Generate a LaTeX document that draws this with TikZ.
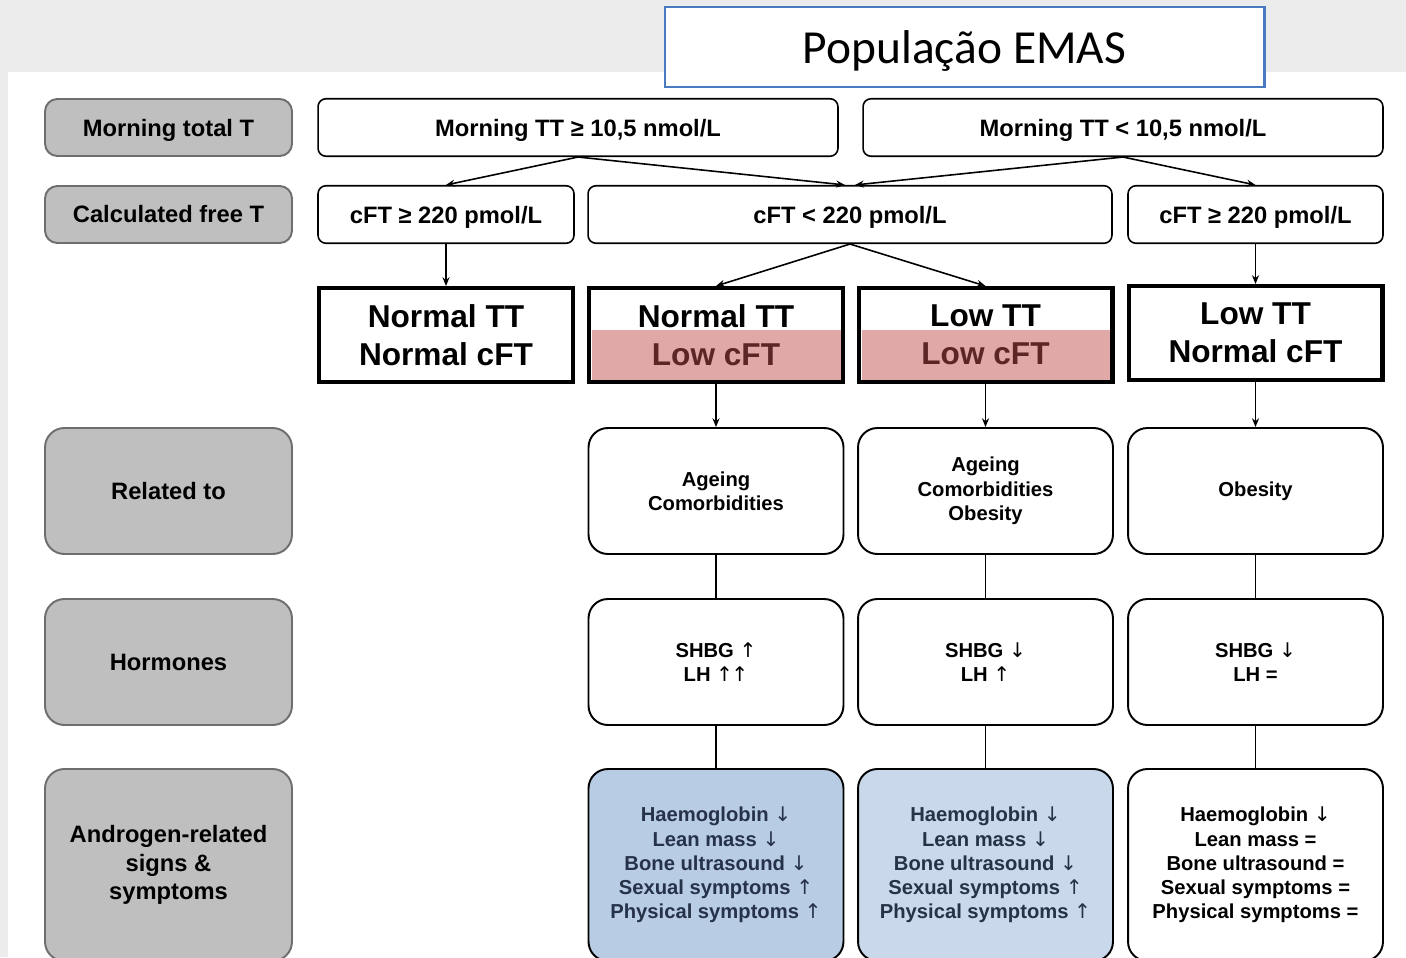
\documentclass[tikz,border=0pt]{standalone}
\usepackage{fontspec}
\setmainfont{Liberation Sans}
\newfontfamily\titlefont{Carlito}
\newfontfamily\arrowfont{DejaVu Sans}
\usepackage{xcolor}
\usetikzlibrary{arrows.meta}
\definecolor{bggray}{HTML}{ECECEC}
\definecolor{boxgray}{HTML}{BFBFBF}
\definecolor{edgegray}{HTML}{6E6E6E}
\definecolor{titleblue}{HTML}{4A7BC0}
\definecolor{lowpink}{HTML}{E0A8A6}
\definecolor{lowred}{HTML}{5C2626}
\definecolor{symblueA}{HTML}{B8CCE4}
\definecolor{symblueB}{HTML}{C9D8EA}
\definecolor{symtext}{HTML}{263248}
\newcommand{\midfont}{\bfseries\fontsize{13.5}{16.2}\selectfont}
\newcommand{\bigfont}{\bfseries\fontsize{18}{21.6}\selectfont}
\newcommand{\smallfont}{\bfseries\fontsize{11.5}{13.8}\selectfont}
\newcommand{\uparr}{{\arrowfont\mdseries ↑}}
\newcommand{\dnarr}{{\arrowfont\mdseries ↓}}

\begin{document}
\begin{tikzpicture}[x=0.02cm, y=-0.02cm, >={Stealth[length=5pt,width=4pt]},
  titlebox/.style={draw=titleblue, line width=1.2pt, fill=white, minimum width=12cm, minimum height=1.6cm, inner sep=0pt, text depth=0pt, font=\titlefont\fontsize{27}{32}\selectfont},
  labelbox/.style={draw=edgegray, line width=1.1pt, fill=boxgray, rounded corners=7pt, minimum width=4.94cm, align=center, inner sep=2pt, font=\midfont},
  condbox/.style={draw, line width=0.9pt, fill=white, rounded corners=4.5pt, minimum height=1.15cm, inner sep=2pt, text depth=0pt, font=\midfont},
  groupbox/.style={draw, line width=2.3pt, minimum width=5.08cm, minimum height=1.88cm, align=center, inner sep=2pt, font=\bigfont},
  infobox/.style={draw, line width=1.1pt, fill=white, rounded corners=11pt, minimum width=5.1cm, align=center, inner sep=2pt, font=\smallfont},
  link/.style={line width=0.9pt},
  stem/.style={line width=1.1pt}]
  \useasboundingbox (0,0) rectangle (1406,957);
  \clip (0,0) rectangle (1406,957);
  \fill[bggray] (0,0) rectangle (1406,957);
  \fill[white] (8,72) rectangle (1406,957);

  % title
  \node[titlebox] (pop) at (964.5,47) {População EMAS};

  % left column
  \node[labelbox, minimum height=1.14cm, text depth=0pt] (mornT) at (168.5,127.5) {Morning total T};
  \node[labelbox, minimum height=1.14cm] (freeT) at (168.5,214.5) {Calculated free T};
  \node[labelbox, minimum height=2.52cm, rounded corners=11pt] (relT) at (168.5,491) {Related to};
  \node[labelbox, minimum height=2.52cm, rounded corners=11pt] (hormT) at (168.5,662) {Hormones};
  \node[labelbox, minimum height=3.84cm, rounded corners=11pt] (signT) at (168.5,865) {Androgen-related\\signs \&\\symptoms};

  % total T and free T
  \node[condbox, minimum width=10.4cm] (ttHigh) at (578,127.5) {Morning TT ≥ 10,5 nmol/L};
  \node[condbox, minimum width=10.4cm] (ttLow) at (1123,127.5) {Morning TT < 10,5 nmol/L};
  \node[condbox, minimum width=5.12cm] (cftA) at (446,214.5) {cFT ≥ 220 pmol/L};
  \node[condbox, minimum width=10.48cm] (cftB) at (850,214.5) {cFT < 220 pmol/L};
  \node[condbox, minimum width=5.1cm] (cftC) at (1255.5,214.5) {cFT ≥ 220 pmol/L};

  % groups
  \fill[lowpink] (592,330) rectangle (842,380);
  \fill[lowpink] (862,330) rectangle (1112,380);
  \node[groupbox] (grpNN) at (446,335) {Normal TT\\Normal cFT};
  \node[groupbox] (grpNL) at (716,335) {Normal TT\\{\color{lowred}Low cFT}};
  \node[groupbox] (grpLL) at (985.5,335) {Low TT\\{\color{lowred}Low cFT}};
  \node[groupbox] (grpLN) at (1255.5,333) {Low TT\\Normal cFT};

  % related to
  \node[infobox, minimum height=2.52cm] (relA) at (716,491) {Ageing\\Comorbidities};
  \node[infobox, minimum height=2.52cm] (relB) at (985.5,491) {Ageing\\Comorbidities\\Obesity};
  \node[infobox, minimum height=2.52cm] (relC) at (1255.5,491) {Obesity};

  % hormones
  \node[infobox, minimum height=2.52cm] (horA) at (716,662) {SHBG \uparr\\LH \uparr\kern-1pt\uparr};
  \node[infobox, minimum height=2.52cm] (horB) at (985.5,662) {SHBG \dnarr\\LH \uparr};
  \node[infobox, minimum height=2.52cm] (horC) at (1255.5,662) {SHBG \dnarr\\LH =};

  % signs and symptoms
  \node[infobox, minimum height=3.84cm, fill=symblueA, text=symtext] (symA) at (716,865)
    {Haemoglobin \dnarr\\Lean mass \dnarr\\Bone ultrasound \dnarr\\Sexual symptoms \uparr\\Physical symptoms \uparr};
  \node[infobox, minimum height=3.84cm, fill=symblueB, text=symtext] (symB) at (985.5,865)
    {Haemoglobin \dnarr\\Lean mass \dnarr\\Bone ultrasound \dnarr\\Sexual symptoms \uparr\\Physical symptoms \uparr};
  \node[infobox, minimum height=3.84cm] (symC) at (1255.5,865)
    {Haemoglobin \dnarr\\Lean mass =\\Bone ultrasound =\\Sexual symptoms =\\Physical symptoms =};

  % connectors
  \draw[link,->] (ttHigh.south) -- (cftA.north);
  \draw[link,->] (ttHigh.south) -- ([xshift=-0.1cm]cftB.north);
  \draw[link,->] (ttLow.south) -- ([xshift=0.1cm]cftB.north);
  \draw[link,->] (ttLow.south) -- (cftC.north);
  \draw[link,->] (cftA.south) -- (grpNN.north);
  \draw[link,->] (cftB.south) -- (grpNL.north);
  \draw[link,->] (cftB.south) -- (grpLL.north);
  \draw[link,->] (cftC.south) -- (grpLN.north);
  \foreach \g/\c in {NL/A, LL/B, LN/C} {
    \draw[link,->] (grp\g.south) -- (rel\c.north);
    \draw[stem] (rel\c.south) -- (hor\c.north);
    \draw[stem] (hor\c.south) -- (sym\c.north);
  }
\end{tikzpicture}
\end{document}
